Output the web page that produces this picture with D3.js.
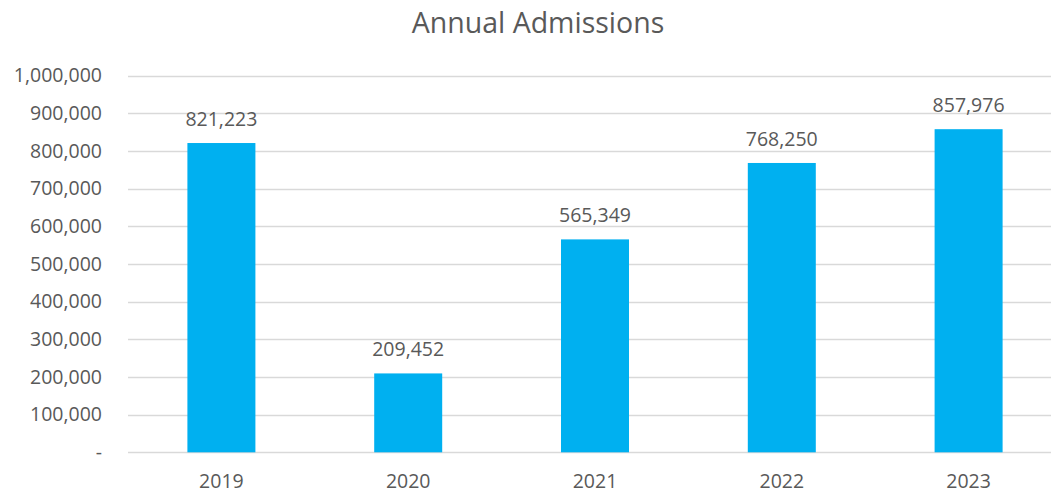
<!DOCTYPE html>
<html>
<head>
<meta charset="utf-8">
<script src="https://cdn.jsdelivr.net/npm/d3@7"></script>
<style>
  html, body { margin: 0; padding: 0; background: #fff; overflow: hidden; }
  svg { display: block; }
  text { font-family: "Open Sans", sans-serif; fill: #595959; }
</style>
</head>
<body>
<svg id="chart" width="1051" height="492"></svg>
<script>
const title = "Annual Admissions";
const years = ["2019", "2020", "2021", "2022", "2023"];
const admissions = [821223, 209452, 565349, 768250, 857976];
const yTicks = [0, 100000, 200000, 300000, 400000, 500000, 600000, 700000, 800000, 900000, 1000000];

(function () {
const svg = d3.select("#chart");
const plotLeft = 128, step = 186.8;
const plotTop = 75.7, plotBottom = 452.3;

const x = d3.scaleBand()
  .domain(years)
  .range([plotLeft, plotLeft + step * years.length])
  .paddingInner(0.636)
  .paddingOuter(0.318);

const y = d3.scaleLinear().domain([0, 1000000]).range([plotBottom, plotTop]);

const fmt = d3.format(",");

// gridlines
svg.append("g")
  .selectAll("line")
  .data(yTicks)
  .join("line")
  .attr("x1", plotLeft)
  .attr("x2", 1051)
  .attr("y1", d => Math.round(y(d)) + 0.5)
  .attr("y2", d => Math.round(y(d)) + 0.5)
  .attr("stroke", "#d9d9d9")
  .attr("stroke-width", 1.3);

// y axis labels
const yAxis = d3.axisLeft(y)
  .tickValues(yTicks)
  .tickSize(0)
  .tickPadding(0)
  .tickFormat(d => d === 0 ? "-" : fmt(d));
const ya = svg.append("g").attr("transform", "translate(102,0)").call(yAxis);
ya.select(".domain").remove();
ya.selectAll("text")
  .style("font-size", "19.5px")
  .attr("fill", "#595959")
  .attr("font-family", "Open Sans, sans-serif");

// bars
svg.append("g")
  .selectAll("rect")
  .data(admissions)
  .join("rect")
  .attr("x", (d, i) => x(years[i]))
  .attr("width", x.bandwidth())
  .attr("y", d => y(d))
  .attr("height", d => y(0) - y(d))
  .attr("fill", "#00b0f0");

// data labels
svg.append("g")
  .selectAll("text")
  .data(admissions)
  .join("text")
  .attr("x", (d, i) => x(years[i]) + x.bandwidth() / 2)
  .attr("y", d => y(d) - 17)
  .attr("text-anchor", "middle")
  .style("font-size", "19.5px")
  .text(d => fmt(d));

// x axis labels
const xAxis = d3.axisBottom(x).tickSize(0).tickPadding(0);
const xa = svg.append("g").attr("transform", "translate(0,473)").call(xAxis);
xa.select(".domain").remove();
xa.selectAll("text")
  .attr("dy", "0")
  .attr("y", 14.5)
  .style("font-size", "19.5px")
  .attr("fill", "#595959")
  .attr("font-family", "Open Sans, sans-serif");

// title
svg.append("text")
  .attr("x", 538)
  .attr("y", 33)
  .attr("text-anchor", "middle")
  .style("font-size", "28.5px")
  .text(title);
})();
</script>
</body>
</html>
